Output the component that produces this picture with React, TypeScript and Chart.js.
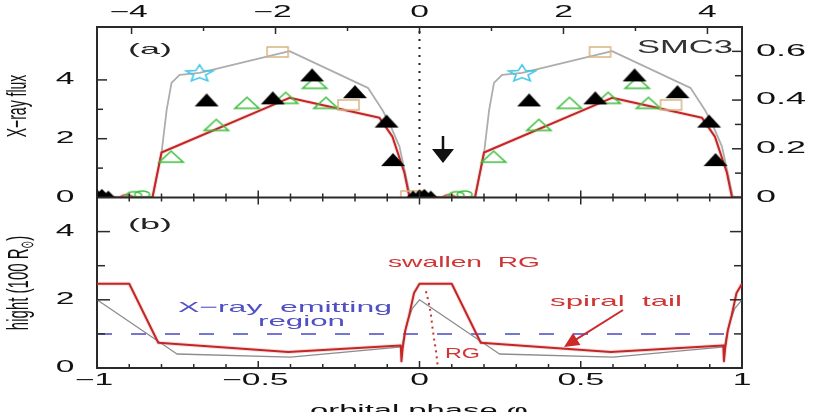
import { useEffect, useRef } from 'react';
import { Chart, registerables } from 'chart.js';

Chart.register(...registerables);

const FONT = '"Liberation Sans", Arial, "DejaVu Sans", sans-serif';

// ---------- axis tick labels ----------
const PHASE_TICK_LABELS = [-1, -0.5, 0, 0.5, 1];
const TOP_TICK_LABELS = [-4, -2, 0, 2, 4];
const FLUX_TICK_LABELS = [0, 2, 4];
const FLUX_RIGHT_TICK_LABELS = [0, 0.2, 0.4, 0.6];
const HEIGHT_TICK_LABELS = [0, 2, 4];

// ---------- panel (a): model light curves, one orbital cycle (shown at φ−1 and φ) ----------
const GREY_FLUX_PHASE = [0, 0.172, 0.2, 0.216, 0.231, 0.256, 0.318, 0.597, 0.84, 0.885, 0.913, 0.938, 0.96, 0.972, 1];
const GREY_FLUX = [0, 0, 1.5, 2.98, 3.9, 4.17, 4.24, 4.98, 3.73, 2.98, 2.37, 1.73, 0.61, 0, 0];
const RED_FLUX_PHASE = [0, 0.172, 0.2, 0.597, 0.876, 0.916, 0.953, 0.969, 1];
const RED_FLUX = [0, 0, 1.53, 3.39, 2.71, 2.07, 0.85, 0, 0];

// ---------- panel (a): observations, one cycle ----------
const BLACK_TRI_PHASE = [0.34, 0.545, 0.667, 0.8, 0.898, 0.918];
const BLACK_TRI_FLUX = [3.32, 3.39, 4.17, 3.6, 2.6, 1.29];
const BLACK_LOW_PHASE = [-0.02, 0.0, 0.015, 0.035];
const BLACK_LOW_FLUX = [0.08, 0.12, 0.14, 0.08];
const GREEN_TRI_PHASE = [0.23, 0.37, 0.465, 0.585, 0.675, 0.71];
const GREEN_TRI_FLUX = [1.39, 2.47, 3.22, 3.39, 3.9, 3.22];
const GREEN_LOW_PHASE = [0.115, 0.14];
const GREEN_LOW_FLUX = [0.08, 0.1];
const TAN_SQ_PHASE = [-0.025, 0.56, 0.78];
const TAN_SQ_FLUX = [0.05, 4.95, 3.15];
const STAR_PHASE = [0.318];
const STAR_FLUX = [4.24];
const RED_CIRCLE_PHASE = [0.092];
const RED_CIRCLE_FLUX = [-0.04];

// ---------- panel (b): heights, one cycle ----------
const RED_HEIGHT_PHASE = [0, 0.1, 0.19, 0.593, 0.942, 0.944, 0.948, 0.956, 0.967, 0.983, 1];
const RED_HEIGHT = [2.47, 2.47, 0.74, 0.47, 0.66, 0.2, 0.6, 1.1, 1.5, 2.2, 2.47];
const GREY_HEIGHT_PHASE = [0, 0.248, 0.6, 0.946, 0.952, 0.962, 0.978, 1];
const GREY_HEIGHT = [2.0, 0.41, 0.32, 0.62, 0.95, 1.35, 1.75, 2.0];
const RG_PHASE = [0.02, 0.028, 0.035, 0.04, 0.046, 0.052, 0.056];
const RG_HEIGHT = [2.25, 1.95, 1.6, 1.2, 0.8, 0.45, 0.1];
const EMIT_PHASE = [-1, 1];
const EMIT_HEIGHT = [1, 1];
const PHASE0_PHASE = [0, 0];
const PHASE0_FLUX = [0.15, 5.7];

type P = { x: number; y: number };
const pts = (ph: number[], v: number[]): P[] => ph.map((p, i) => ({ x: p, y: v[i] }));
const twoCycles = (ph: number[], v: number[]): P[] => [
  ...ph.map((p, i) => ({ x: p - 1, y: v[i] })),
  ...ph.map((p, i) => ({ x: p, y: v[i] })),
];

function marker(w: number, h: number, paint: (c: CanvasRenderingContext2D, w: number, h: number) => void) {
  const m = 3;
  const cv = document.createElement('canvas');
  cv.width = Math.ceil(w + 2 * m);
  cv.height = Math.ceil(h + 2 * m);
  const c = cv.getContext('2d')!;
  c.translate(m, m);
  paint(c, w, h);
  return cv;
}
const triPath = (c: CanvasRenderingContext2D, w: number, h: number) => {
  c.beginPath();
  c.moveTo(w / 2, 0);
  c.lineTo(w, h);
  c.lineTo(0, h);
  c.closePath();
};

function fmt(v: number) {
  const a = Math.abs(v);
  const s = Number.isInteger(a) ? String(a) : a.toFixed(1);
  return (v < 0 ? '\u2212' : '') + s;
}
const isIn = (v: number, arr: number[]) => arr.some((a) => Math.abs(a - v) < 1e-6);

function drawText(
  ctx: CanvasRenderingContext2D,
  s: string,
  x: number,
  y: number,
  o: { size?: number; color?: string; align?: 'left' | 'center' | 'right'; base?: CanvasTextBaseline; sx?: number; w?: number; rot?: boolean }
) {
  ctx.save();
  ctx.font = `${o.size ?? 16}px ${FONT}`;
  ctx.fillStyle = o.color ?? '#111';
  ctx.textBaseline = o.base ?? 'middle';
  ctx.textAlign = 'left';
  const w = ctx.measureText(s).width;
  const sx = o.w ? o.w / w : o.sx ?? 2.1;
  const align = o.align ?? 'center';
  const dx = align === 'center' ? -w / 2 : align === 'right' ? -w : 0;
  ctx.translate(x, y);
  ctx.scale(sx, 1);
  if (o.rot) ctx.rotate(-Math.PI / 2);
  ctx.fillText(s, dx, 0);
  ctx.restore();
}

function arrow(ctx: CanvasRenderingContext2D, x1: number, y1: number, x2: number, y2: number, color: string, lw: number, hl: number, hw: number) {
  const dx = x2 - x1, dy = y2 - y1;
  const L = Math.hypot(dx, dy);
  const ux = dx / L, uy = dy / L;
  const px = -uy, py = ux;
  const bx = x2 - ux * hl, by = y2 - uy * hl;
  ctx.save();
  ctx.strokeStyle = color;
  ctx.fillStyle = color;
  ctx.lineWidth = lw;
  ctx.beginPath();
  ctx.moveTo(x1, y1);
  ctx.lineTo(bx + ux * 2, by + uy * 2);
  ctx.stroke();
  ctx.beginPath();
  ctx.moveTo(x2, y2);
  ctx.lineTo(bx + px * hw, by + py * hw);
  ctx.lineTo(bx - px * hw, by - py * hw);
  ctx.closePath();
  ctx.fill();
  ctx.restore();
}

const decorPlugin = {
  id: 'decor',
  afterDraw(chart: any) {
    const { ctx, chartArea: ca, scales } = chart;
    const sx = scales.x, st = scales.xt, yl = scales.y, ylb = scales.yb, yr = scales.yr, yrb = scales.ybr;
    const mid = yl.bottom;
    const ln = (a: number, b: number, c: number, d: number) => {
      ctx.beginPath();
      ctx.moveTo(a, b);
      ctx.lineTo(c, d);
      ctx.stroke();
    };
    ctx.save();
    ctx.strokeStyle = '#2a2a2a';
    ctx.lineWidth = 2;
    ln(ca.left, mid, ca.right, mid);
    ctx.lineWidth = 1.5;
    // bottom phase axis ticks (bottom frame and the panel separator)
    for (const t of sx.ticks) {
      const px = sx.getPixelForValue(t.value);
      const L = isIn(t.value, PHASE_TICK_LABELS) ? 7 : 4;
      ln(px, ca.bottom, px, ca.bottom - L);
      ln(px, mid, px, mid - L);
      ln(px, mid, px, mid + L);
    }
    // top axis ticks
    for (const t of st.ticks) {
      if (!Number.isInteger(Math.round(t.value * 1000) / 1000)) continue;
      const px = st.getPixelForValue(t.value);
      const L = isIn(t.value, TOP_TICK_LABELS) ? 7 : 4;
      ln(px, ca.top, px, ca.top + L);
    }
    // left / right ticks
    const vt = (sc: any, labels: number[], x0: number, dir: number, maj: number, min: number) => {
      for (const t of sc.ticks) {
        const py = sc.getPixelForValue(t.value);
        if (py < sc.top + 1 || py > sc.bottom - 1) continue;
        const L = isIn(t.value, labels) ? maj : min;
        ln(x0, py, x0 + dir * L, py);
      }
    };
    vt(yl, FLUX_TICK_LABELS, ca.left, 1, 10, 6);
    vt(ylb, HEIGHT_TICK_LABELS, ca.left, 1, 13, 8);
    vt(yr, FLUX_RIGHT_TICK_LABELS, ca.right, -1, 10, 7);
    vt(yrb, HEIGHT_TICK_LABELS, ca.right, -1, 12, 8);
    ctx.restore();

    // tick labels
    for (const v of PHASE_TICK_LABELS) drawText(ctx, fmt(v), sx.getPixelForValue(v) - (v < 0 ? 3 : 0), ca.bottom + 13, { size: 16, sx: 2.1 });
    for (const v of TOP_TICK_LABELS) drawText(ctx, fmt(v), st.getPixelForValue(v) - (v < 0 ? 3 : 0), 13, { size: 16, sx: 2.1 });
    for (const v of FLUX_TICK_LABELS) drawText(ctx, fmt(v), ca.left - 32, yl.getPixelForValue(v), { size: 16, sx: 2.1 });
    for (const v of HEIGHT_TICK_LABELS) drawText(ctx, fmt(v), ca.left - 32, ylb.getPixelForValue(v), { size: 16, sx: 2.1 });
    for (const v of FLUX_RIGHT_TICK_LABELS) drawText(ctx, fmt(v), ca.right + 14, yr.getPixelForValue(v), { size: 16, sx: 2.25, align: 'left' });

    // axis titles
    drawText(ctx, 'X\u2212ray flux', 18, 106, { size: 14, sx: 2, rot: true });
    {
      ctx.save();
      ctx.translate(20, 283);
      ctx.scale(2, 1);
      ctx.rotate(-Math.PI / 2);
      ctx.fillStyle = '#111';
      ctx.textBaseline = 'middle';
      ctx.textAlign = 'left';
      ctx.font = `15px ${FONT}`;
      const p1 = 'hight (100 R';
      const w1 = ctx.measureText(p1).width;
      const w3 = ctx.measureText(')').width;
      ctx.font = `9px ${FONT}`;
      const w2 = ctx.measureText('\u2299').width;
      let u = -(w1 + w2 + w3) / 2;
      ctx.font = `15px ${FONT}`;
      ctx.fillText(p1, u, 0);
      u += w1;
      ctx.font = `9px ${FONT}`;
      ctx.fillText('\u2299', u, 4);
      u += w2;
      ctx.font = `15px ${FONT}`;
      ctx.fillText(')', u, 0);
      ctx.restore();
    }
    drawText(ctx, 'orbital phase \u03c6', 310, 416, { size: 16, w: 218, align: 'left', base: 'alphabetic' });

    // panel labels & annotations
    drawText(ctx, '(a)', 128, 50, { size: 15, w: 44, align: 'left', color: '#222' });
    drawText(ctx, '(b)', 128, 225, { size: 15, w: 44, align: 'left', color: '#222' });
    drawText(ctx, 'SMC3', 637, 48, { size: 18, w: 96, align: 'left', color: '#333' });
    const RED_T = '#cf3535';
    const BLUE_T = '#5050c4';
    drawText(ctx, 'swallen  RG', 388, 267, { size: 15, w: 152, align: 'left', base: 'alphabetic', color: RED_T });
    drawText(ctx, 'X\u2212ray  emitting', 178, 312, { size: 15, w: 214, align: 'left', base: 'alphabetic', color: BLUE_T });
    drawText(ctx, 'region', 258, 326, { size: 15, w: 87, align: 'left', base: 'alphabetic', color: BLUE_T });
    drawText(ctx, 'spiral  tail', 550, 306, { size: 15, w: 132, align: 'left', base: 'alphabetic', color: RED_T });
    drawText(ctx, 'RG', 445, 358, { size: 15, w: 35, align: 'left', base: 'alphabetic', color: RED_T });

    arrow(ctx, 623, 310, 564, 347, '#cc2a2a', 2, 15, 7);
    arrow(ctx, 443, 136, 443, 163, '#111', 2.5, 14, 11);
  },
};

export default function App() {
  const ref = useRef<HTMLCanvasElement>(null);
  useEffect(() => {
    document.body.style.margin = '0';
    const blackTri = marker(24, 13, (c, w, h) => { triPath(c, w, h); c.fillStyle = '#000'; c.fill(); });
    const blackLow = marker(18, 9, (c, w, h) => { triPath(c, w, h); c.fillStyle = '#000'; c.fill(); });
    const greenTri = marker(24, 11, (c, w, h) => { triPath(c, w, h); c.strokeStyle = '#3dbf3d'; c.lineWidth = 1.6; c.stroke(); });
    const greenLow = marker(15, 7, (c, w, h) => { c.beginPath(); c.ellipse(w / 2, h / 2, w / 2, h / 2, 0, 0, Math.PI * 2); c.strokeStyle = '#3dbf3d'; c.lineWidth = 1.5; c.stroke(); });
    const tanSq = marker(21, 10, (c, w, h) => { c.strokeStyle = '#d8b482'; c.lineWidth = 1.5; c.strokeRect(0, 0, w, h); });
    const star = marker(28, 16, (c, w, h) => {
      c.beginPath();
      for (let k = 0; k < 10; k++) {
        const r = k % 2 === 0 ? 1 : 0.45;
        const a = -Math.PI / 2 + (k * Math.PI) / 5;
        const px = w / 2 + Math.cos(a) * r * (w / 2);
        const py = h * 0.55 + Math.sin(a) * r * (h * 0.55);
        if (k === 0) c.moveTo(px, py); else c.lineTo(px, py);
      }
      c.closePath();
      c.strokeStyle = '#3fc6e6';
      c.lineWidth = 1.6;
      c.stroke();
    });
    const redCircle = marker(14, 8, (c, w, h) => { c.beginPath(); c.ellipse(w / 2, h / 2, w / 2, h / 2, 0, 0, Math.PI * 2); c.strokeStyle = '#b04a2c'; c.lineWidth = 1.5; c.stroke(); });

    const lineDs = (label: string, data: P[], yAxisID: string, color: string, width: number, order: number, dash: number[] = []) => ({
      label, data, yAxisID, xAxisID: 'x', borderColor: color, borderWidth: width, borderDash: dash,
      pointRadius: 0, showLine: true, tension: 0, fill: false, order, borderJoinStyle: 'round' as const,
    });
    const markDs = (label: string, data: P[], style: HTMLCanvasElement, order: number) => ({
      label, data, yAxisID: 'y', xAxisID: 'x', showLine: false, pointStyle: style, pointRadius: 6, pointHoverRadius: 6, order,
    });

    const border = { display: true, color: '#2a2a2a', width: 2 };
    const grid = { display: false, drawTicks: false, tickLength: 0 };
    const chart = new Chart(ref.current!, {
      type: 'line',
      data: {
        datasets: [
          markDs('black', twoCycles(BLACK_TRI_PHASE, BLACK_TRI_FLUX), blackTri, 1),
          markDs('blackLow', twoCycles(BLACK_LOW_PHASE, BLACK_LOW_FLUX), blackLow, 1),
          markDs('star', twoCycles(STAR_PHASE, STAR_FLUX), star, 2),
          markDs('tan', twoCycles(TAN_SQ_PHASE, TAN_SQ_FLUX), tanSq, 3),
          markDs('green', twoCycles(GREEN_TRI_PHASE, GREEN_TRI_FLUX), greenTri, 4),
          markDs('greenLow', twoCycles(GREEN_LOW_PHASE, GREEN_LOW_FLUX), greenLow, 4),
          markDs('redCircle', twoCycles(RED_CIRCLE_PHASE, RED_CIRCLE_FLUX), redCircle, 5),
          lineDs('phase0', pts(PHASE0_PHASE, PHASE0_FLUX), 'y', '#222', 2, 6, [2, 6]),
          lineDs('redFlux', twoCycles(RED_FLUX_PHASE, RED_FLUX), 'y', '#c42626', 2, 8),
          lineDs('greyFlux', twoCycles(GREY_FLUX_PHASE, GREY_FLUX), 'y', '#adadad', 1.8, 9),
          lineDs('redFluxHalo', twoCycles(RED_FLUX_PHASE, RED_FLUX), 'y', 'rgba(214,96,96,0.2)', 4, 10),
          lineDs('rg', pts(RG_PHASE, RG_HEIGHT), 'yb', '#cc3030', 2, 11, [2, 4]),
          lineDs('redHeight', twoCycles(RED_HEIGHT_PHASE, RED_HEIGHT), 'yb', '#c42626', 2, 12),
          lineDs('greyHeight', twoCycles(GREY_HEIGHT_PHASE, GREY_HEIGHT), 'yb', '#8c8c8c', 1.3, 13),
          lineDs('redHeightHalo', twoCycles(RED_HEIGHT_PHASE, RED_HEIGHT), 'yb', 'rgba(214,96,96,0.2)', 4, 14),
          lineDs('emit', pts(EMIT_PHASE, EMIT_HEIGHT), 'yb', '#4848c6', 1.5, 15, [15, 19]),
        ],
      },
      options: {
        responsive: false,
        animation: false,
        layout: { padding: { left: 97, right: 72, top: 27, bottom: 44 } },
        plugins: { legend: { display: false }, tooltip: { enabled: false }, title: { display: false } },
        events: [],
        scales: {
          x: { type: 'linear', position: 'bottom', min: -1, max: 1, ticks: { display: false, stepSize: 0.1 }, grid, border },
          xt: { type: 'linear', position: 'top', min: -4.48, max: 4.48, ticks: { display: false, stepSize: 1, includeBounds: false }, grid, border },
          y: { type: 'linear', position: 'left', stack: 'L', stackWeight: 1, weight: 1, min: 0, max: 5.8, ticks: { display: false, stepSize: 1 }, grid, border },
          yb: { type: 'linear', position: 'left', stack: 'L', stackWeight: 1, weight: 0, min: 0, max: 5, ticks: { display: false, stepSize: 1 }, grid, border },
          yr: { type: 'linear', position: 'right', stack: 'R', stackWeight: 1, weight: 0, min: 0, max: 0.7, ticks: { display: false, stepSize: 0.1 }, grid, border },
          ybr: { type: 'linear', position: 'right', stack: 'R', stackWeight: 1, weight: 1, min: 0, max: 5, ticks: { display: false, stepSize: 1 }, grid, border },
        },
      } as any,
      plugins: [decorPlugin],
    });
    return () => chart.destroy();
  }, []);
  return (
    <div style={{ position: 'absolute', left: 0, top: 0, width: 814, height: 412, background: '#fff' }}>
      <canvas ref={ref} width={814} height={412} style={{ display: 'block' }} />
    </div>
  );
}
